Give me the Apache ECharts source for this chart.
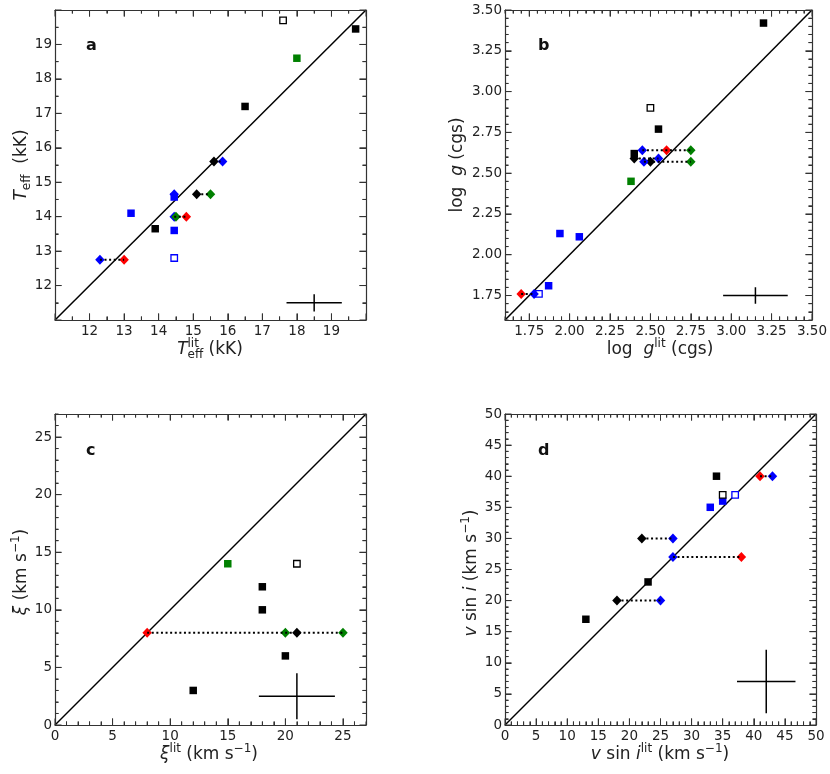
<!DOCTYPE html>
<html>
<head>
<meta charset="utf-8">
<script src="https://cdn.jsdelivr.net/npm/echarts@6/dist/echarts.min.js"></script>
<style>html,body{margin:0;padding:0;background:#fff}#chart{width:830px;height:774px}</style>
</head>
<body>
<div id="chart"></div>
<script>
var FONT = '"DejaVu Sans"';
var BLUE = '#0000ff', GREEN = '#008000', RED = '#ff0000', BLACK = '#000000';

// a: Teff (kK)
var aTicks = [12, 13, 14, 15, 16, 17, 18, 19];
var aBlackSq = [[13.9, 13.65], [16.5, 17.2], [19.7, 19.45]];
var aBlackOpen = [[17.6, 19.7]];
var aBlueSq = [[13.2, 14.1], [14.45, 14.57], [14.45, 13.6]];
var aBlueOpen = [[14.45, 12.8]];
var aGreenSq = [[18.0, 18.6]];
var aBlackDm = [[15.6, 15.6], [15.1, 14.65]];
var aBlueDm = [[15.85, 15.6], [14.45, 14.65], [14.45, 14.0], [12.3, 12.75]];
var aGreenDm = [[15.5, 14.65], [14.5, 14.0]];
var aRedDm = [[14.8, 14.0], [13.0, 12.75]];
var aLinks = [[15.6, 15.85, 15.6], [15.1, 15.5, 14.65], [14.45, 14.8, 14.0], [12.3, 13.0, 12.75]];
var aErr = [18.5, 11.5, 0.8, 0.25];

// b: log g (cgs)
var bTicks = [1.75, 2.0, 2.25, 2.5, 2.75, 3.0, 3.25, 3.5];
var bBlackSq = [[2.40, 2.62], [2.55, 2.77], [3.20, 3.42]];
var bBlackOpen = [[2.50, 2.90]];
var bBlueSq = [[1.87, 1.81], [1.94, 2.13], [2.06, 2.11]];
var bBlueOpen = [[1.81, 1.76]];
var bGreenSq = [[2.38, 2.45]];
var bBlackDm = [[2.40, 2.59], [2.50, 2.57]];
var bBlueDm = [[2.45, 2.64], [2.46, 2.57], [2.55, 2.59], [1.78, 1.76]];
var bGreenDm = [[2.75, 2.64], [2.75, 2.57]];
var bRedDm = [[2.60, 2.64], [1.70, 1.76]];
var bLinks = [[2.45, 2.75, 2.64], [2.46, 2.75, 2.57], [2.40, 2.55, 2.59], [1.70, 1.78, 1.76]];
var bErr = [3.15, 1.75, 0.2, 0.05];

// c: xi (km/s)
var cTicks = [0, 5, 10, 15, 20, 25];
var cBlackSq = [[12, 3], [18, 12], [18, 10], [20, 6]];
var cBlackOpen = [[21, 14]];
var cGreenSq = [[15, 14]];
var cBlackDm = [[21, 8]];
var cGreenDm = [[20, 8], [25, 8]];
var cRedDm = [[8, 8]];
var cLinks = [[8, 25, 8]];
var cErr = [21, 2.5, 3.3, 2.0];

// d: v sin i (km/s)
var dTicks = [0, 5, 10, 15, 20, 25, 30, 35, 40, 45, 50];
var dBlackSq = [[13, 17], [23, 23], [34, 40]];
var dBlackOpen = [[35, 37]];
var dBlueSq = [[33, 35], [35, 36]];
var dBlueOpen = [[37, 37]];
var dBlackDm = [[18, 20], [22, 30]];
var dBlueDm = [[25, 20], [27, 30], [27, 27], [43, 40]];
var dRedDm = [[38, 27], [41, 40]];
var dLinks = [[18, 25, 20], [22, 27, 30], [27, 38, 27], [41, 43, 40]];
var dErr = [42, 7, 4.7, 5.1];

var grids = [
  {left: 55, top: 10, width: 311, height: 310},
  {left: 505, top: 10, width: 311, height: 310},
  {left: 55, top: 414, width: 311, height: 311},
  {left: 505, top: 414, width: 311, height: 311}
];
var scales = [
  {min: 11, max: 20, major: 1, minor: 0.5, ticks: aTicks, dec: 0},
  {min: 1.6, max: 3.5, major: 0.25, minor: 0.05, ticks: bTicks, dec: 2},
  {min: 0, max: 27, major: 5, minor: 1, ticks: cTicks, dec: 0},
  {min: 0, max: 50, major: 5, minor: 1, ticks: dTicks, dec: 0}
];

function steps(min, max, step) {
  var out = [];
  var k = Math.ceil(min / step - 1e-9);
  for (; k * step <= max + 1e-9; k++) out.push(+(k * step).toFixed(6));
  return out;
}
var AX = 2; // axes per dimension per grid
var MAJ = 6.5, MIN = 3.5;

// value axis: frame line (+ labels on bottom / left)
function frameAxis(gi, s, position, labels) {
  var ax = {
    type: 'value', gridIndex: gi, position: position, min: s.min, max: s.max,
    splitLine: {show: false},
    axisLine: {show: true, onZero: false, lineStyle: {color: '#333', width: 1.2}},
    axisTick: {show: false},
    axisLabel: {show: false}
  };
  if (labels) {
    ax.axisLabel = {
      show: true, customValues: s.ticks, fontFamily: FONT, fontSize: 13.5, color: '#222',
      margin: (position === 'left') ? 3 : 4,
      formatter: function (v) { return v.toFixed(s.dec); }
    };
  }
  return ax;
}

var xAxes = [], yAxes = [];
grids.forEach(function (g, gi) {
  var s = scales[gi];
  xAxes.push(frameAxis(gi, s, 'bottom', true), frameAxis(gi, s, 'top', false));
  yAxes.push(frameAxis(gi, s, 'left', true), frameAxis(gi, s, 'right', false));
});

function isMajor(s, v) { return Math.abs(v / s.major - Math.round(v / s.major)) < 1e-6; }

// inward ticks on all four sides as markLine segments in data units
function tickMarks(gi) {
  var s = scales[gi], g = grids[gi];
  var span = s.max - s.min;
  var out = [];
  steps(s.min, s.max, s.minor).forEach(function (v) {
    var len = isMajor(s, v) ? MAJ : MIN;
    var dy = len * span / g.height, dx = len * span / g.width;
    out.push([{coord: [v, s.min]}, {coord: [v, s.min + dy]}]);
    out.push([{coord: [v, s.max]}, {coord: [v, s.max - dy]}]);
    out.push([{coord: [s.min, v]}, {coord: [s.min + dx, v]}]);
    out.push([{coord: [s.max, v]}, {coord: [s.max - dx, v]}]);
  });
  return out;
}

var series = [];
// same ticks again through a custom series, placed with the grid's scales
function tickSeries(gi) {
  var s = scales[gi];
  var data = steps(s.min, s.max, s.minor).map(function (v) { return [v, isMajor(s, v) ? 1 : 0]; });
  series.push({
    type: 'custom', xAxisIndex: gi * AX, yAxisIndex: gi * AX, silent: true, z: 5, clip: false,
    encode: {x: 0, y: 0}, data: data,
    renderItem: function (params, api) {
      var v = api.value(0), len = api.value(1) ? MAJ : MIN;
      var lo = api.coord([s.min, s.min]), hi = api.coord([s.max, s.max]);
      var p = api.coord([v, v]);
      var segs = [[p[0], lo[1], p[0], lo[1] - len], [p[0], hi[1], p[0], hi[1] + len],
        [lo[0], p[1], lo[0] + len, p[1]], [hi[0], p[1], hi[0] - len, p[1]]];
      return {type: 'group', children: segs.map(function (c) {
        return {type: 'line', shape: {x1: c[0], y1: c[1], x2: c[2], y2: c[3]},
          style: {stroke: '#333', lineWidth: 1}};
      })};
    }
  });
}
function line(gi, data, style, z, extra) {
  var o = {type: 'line', xAxisIndex: gi * AX, yAxisIndex: gi * AX, data: data,
    symbol: 'none', silent: true, z: z, lineStyle: style};
  if (extra) o.markLine = extra;
  series.push(o);
}
function sq(gi, data, color, open) {
  series.push({type: 'scatter', xAxisIndex: gi * AX, yAxisIndex: gi * AX, data: data,
    symbol: 'rect', symbolSize: open ? 6.5 : 7.5, silent: true, z: 3,
    itemStyle: open ? {color: '#fff', borderColor: color, borderWidth: 1.3, opacity: 1} : {color: color, opacity: 1}});
}
function dm(gi, data, color) {
  series.push({type: 'scatter', xAxisIndex: gi * AX, yAxisIndex: gi * AX, data: data,
    symbol: 'diamond', symbolSize: [9.5, 10], silent: true, z: 3, itemStyle: {color: color, opacity: 1}});
}
function panel(gi, p) {
  var s = scales[gi];
  tickSeries(gi);
  line(gi, [[s.min, s.min], [s.max, s.max]], {color: BLACK, width: 1.5}, 2, {
    silent: true, symbol: ['none', 'none'], label: {show: false}, animation: false,
    emphasis: {disabled: true},
    lineStyle: {type: 'solid', color: '#333', width: 1},
    data: tickMarks(gi)
  });
  var e = p.err;
  line(gi, [[e[0] - e[2], e[1]], [e[0] + e[2], e[1]]], {color: BLACK, width: 1.5}, 2);
  line(gi, [[e[0], e[1] - e[3]], [e[0], e[1] + e[3]]], {color: BLACK, width: 1.5}, 2);
  if (p.blackSq) sq(gi, p.blackSq, BLACK);
  if (p.blueSq) sq(gi, p.blueSq, BLUE);
  if (p.greenSq) sq(gi, p.greenSq, GREEN);
  if (p.blackOpen) sq(gi, p.blackOpen, BLACK, true);
  if (p.blueOpen) sq(gi, p.blueOpen, BLUE, true);
  if (p.blackDm) dm(gi, p.blackDm, BLACK);
  if (p.blueDm) dm(gi, p.blueDm, BLUE);
  if (p.greenDm) dm(gi, p.greenDm, GREEN);
  if (p.redDm) dm(gi, p.redDm, RED);
  p.links.forEach(function (l) {
    line(gi, [[l[0], l[2]], [l[1], l[2]]], {color: BLACK, width: 2, type: [2, 2.6]}, 4);
  });
}
panel(0, {blackSq: aBlackSq, blackOpen: aBlackOpen, blueSq: aBlueSq, blueOpen: aBlueOpen, greenSq: aGreenSq,
  blackDm: aBlackDm, blueDm: aBlueDm, greenDm: aGreenDm, redDm: aRedDm, links: aLinks, err: aErr});
panel(1, {blackSq: bBlackSq, blackOpen: bBlackOpen, blueSq: bBlueSq, blueOpen: bBlueOpen, greenSq: bGreenSq,
  blackDm: bBlackDm, blueDm: bBlueDm, greenDm: bGreenDm, redDm: bRedDm, links: bLinks, err: bErr});
panel(2, {blackSq: cBlackSq, blackOpen: cBlackOpen, greenSq: cGreenSq,
  blackDm: cBlackDm, greenDm: cGreenDm, redDm: cRedDm, links: cLinks, err: cErr});
panel(3, {blackSq: dBlackSq, blackOpen: dBlackOpen, blueSq: dBlueSq, blueOpen: dBlueOpen,
  blackDm: dBlackDm, blueDm: dBlueDm, redDm: dRedDm, links: dLinks, err: dErr});

// axis titles with sub/superscripts, laid out with measured widths
var ctx = document.createElement('canvas').getContext('2d');
function fontStr(p) { return (p.b ? 'bold ' : '') + (p.i ? 'italic ' : '') + p.s + 'px ' + FONT; }
function title(cx, cy, parts, rot) {
  var x = 0, kids = [];
  parts.forEach(function (p) {
    ctx.font = fontStr(p);
    var w = ctx.measureText(p.t).width;
    kids.push({type: 'text', x: x, y: p.dy || 0,
      style: {text: p.t, font: fontStr(p), fill: '#222', align: 'left', verticalAlign: 'middle'}});
    if (!p.stay) x += w;
  });
  kids.forEach(function (k) { k.x -= x / 2; });
  return {type: 'group', x: cx, y: cy, rotation: rot ? Math.PI / 2 : 0, silent: true, children: kids};
}
var SUP = -6, SUB = 5;
var graphics = [
  title(210, 350, [{t: 'T', s: 17, i: 1}, {t: 'lit', s: 12, dy: SUP, stay: 1}, {t: 'eff', s: 12, dy: SUB}, {t: ' (kK)', s: 17}]),
  title(22, 165, [{t: 'T', s: 17, i: 1}, {t: 'eff', s: 12, dy: SUB}, {t: '  (kK)', s: 17}], true),
  title(660, 350, [{t: 'log  ', s: 17}, {t: 'g', s: 17, i: 1}, {t: 'lit', s: 12, dy: SUP}, {t: ' (cgs)', s: 17}]),
  title(458, 165, [{t: 'log  ', s: 17}, {t: 'g', s: 17, i: 1}, {t: ' (cgs)', s: 17}], true),
  title(209, 755, [{t: 'ξ', s: 17, i: 1}, {t: 'lit', s: 12, dy: SUP}, {t: ' (km s', s: 17}, {t: '−1', s: 12, dy: SUP}, {t: ')', s: 17}]),
  title(22, 572, [{t: 'ξ', s: 17, i: 1}, {t: ' (km s', s: 17}, {t: '−1', s: 12, dy: SUP}, {t: ')', s: 17}], true),
  title(660, 755, [{t: 'v', s: 17, i: 1}, {t: ' sin ', s: 17}, {t: 'i', s: 17, i: 1}, {t: 'lit', s: 12, dy: SUP},
    {t: ' (km s', s: 17}, {t: '−1', s: 12, dy: SUP}, {t: ')', s: 17}]),
  title(472, 573, [{t: 'v', s: 17, i: 1}, {t: ' sin ', s: 17}, {t: 'i', s: 17, i: 1},
    {t: ' (km s', s: 17}, {t: '−1', s: 12, dy: SUP}, {t: ')', s: 17}], true)
];
[['a', 86, 46], ['b', 538, 46], ['c', 86, 451], ['d', 538, 451]].forEach(function (l) {
  graphics.push({type: 'text', x: l[1], y: l[2], silent: true,
    style: {text: l[0], font: 'bold 16px ' + FONT, fill: '#111', align: 'left', verticalAlign: 'middle'}});
});

var myChart = echarts.init(document.getElementById('chart'));
myChart.setOption({
  animation: false,
  backgroundColor: '#fff',
  grid: grids,
  xAxis: xAxes,
  yAxis: yAxes,
  series: series,
  graphic: graphics
});
</script>
</body>
</html>
